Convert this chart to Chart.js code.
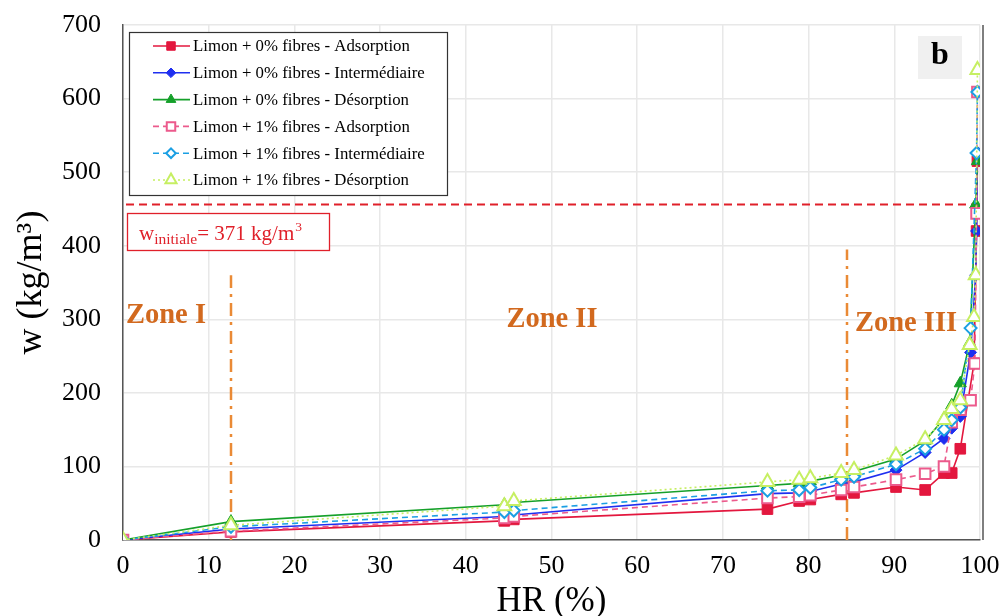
<!DOCTYPE html>
<html>
<head>
<meta charset="utf-8">
<script src="https://cdn.jsdelivr.net/npm/chart.js@4.4.0/dist/chart.umd.min.js"></script>
<style>
html,body{margin:0;padding:0;background:#fff}
#wrap{width:999px;height:616px}
</style>
</head>
<body>
<div id="wrap"><canvas id="myChart" width="999" height="616"></canvas></div>
<script>
// HR (%) and w (kg/m3)
var hrA0=[0,12.6,44.5,45.6,75.2,78.9,80.2,83.8,85.3,90.2,93.6,95.8,96.7,97.7,99.3,99.6,99.7]
var wA0 =[0,11,26,28,42,53,55,62,64,72,68,91,91,124,240,420,515]

var hrI0=[0,12.6,44.5,45.6,75.2,78.9,80.2,83.8,85.3,90.2,93.6,95.8,96.7,97.7,98.9,99.5,99.6,99.7]
var wI0 =[0,15,32,34,63,64,66,76,79,95,119,138,152,168,255,360,420,527]

var hrD0=[0,12.6,44.5,45.6,75.2,78.9,80.2,83.8,85.3,90.2,93.6,95.8,96.7,97.7,98.8,99.5,99.7]
var wD0 =[0,25,48,51,74,77,80,88,93,110,135,165,183,213,268,456,515]

var hrA1=[0,12.6,44.5,45.6,75.2,78.9,80.2,83.8,85.3,90.2,93.6,95.8,96.7,97.7,98.9,99.4,99.6,99.7]
var wA1 =[0,12,30,32,57,59,61,68,72,82,90,100,160,177,190,240,444,609]

var hrI1=[0,12.6,44.5,45.6,75.2,78.9,80.2,83.8,85.3,90.2,93.6,95.8,96.7,97.7,98.9,99.6,99.7]
var wI1 =[0,18,38,40,67,68,71,82,86,103,124,150,163,180,288,526,609]

var hrD1=[0,12.6,44.5,45.6,75.2,78.9,80.2,83.8,85.3,90.2,93.6,95.8,96.7,97.7,98.8,99.3,99.5,99.7]
var wD1 =[0,20,46,53,79,82,84,91,95,115,137,163,178,190,265,303,360,639]

var labels=['Limon + 0% fibres - Adsorption','Limon + 0% fibres - Intermédiaire','Limon + 0% fibres - Désorption',
            'Limon + 1% fibres - Adsorption','Limon + 1% fibres - Intermédiaire','Limon + 1% fibres - Désorption']

var wInit=456      // red dashed level
var zoneLines=[{x:12.6,top:360},{x:84.5,top:395}]
var xTicks=[0,10,20,30,40,50,60,70,80,90,100]
var yTicks=[0,100,200,300,400,500,600,700]

var SERIF='"Liberation Serif","Times New Roman",serif'

function pts(xs,ys){ return xs.map(function(x,i){return {x:x,y:ys[i]}}) }

function ds(i,xs,ys,color,style,radius,dash,hollow,width){
  return {
    label:labels[i], data:pts(xs,ys), borderColor:color, borderWidth:width||1.6,
    borderDash:dash, pointStyle:style, pointRadius:radius,
    pointBackgroundColor:hollow?'#ffffff':color, pointBorderColor:color,
    pointBorderWidth:hollow?2:1, showLine:true, fill:false, tension:0, order:10-i
  }
}

var datasets=[
  ds(0,hrA0,wA0,'#e3173e','rect',7.5,[],false),
  ds(1,hrI0,wI0,'#1f2ff0','rectRot',6,[],false),
  ds(2,hrD0,wD0,'#15a02a','triangle',7,[],false),
  ds(3,hrA1,wA1,'#ec5a8c','rect',7.5,[6,4],true),
  ds(4,hrI1,wI1,'#1b9fe3','rectRot',6,[6,4],true),
  ds(5,hrD1,wD1,'#c6ef62','triangle',8,[2,3],true)
]

var extras={
  id:'extras',
  beforeDatasetsDraw:function(chart){
    var c=chart.ctx, xs=chart.scales.x, ys=chart.scales.y
    c.save()
    // horizontal red dashed line
    c.strokeStyle='#e0202a'; c.lineWidth=1.8; c.setLineDash([8,5])
    c.beginPath(); c.moveTo(xs.getPixelForValue(0)+3,ys.getPixelForValue(wInit))
    c.lineTo(xs.getPixelForValue(99.4),ys.getPixelForValue(wInit)); c.stroke()
    // zone separators (dash-dot)
    c.strokeStyle='#ea8a35'; c.lineWidth=2.5; c.setLineDash([13,6,3,6])
    zoneLines.forEach(function(z){
      var px=Math.round(xs.getPixelForValue(z.x))
      c.beginPath(); c.moveTo(px,ys.getPixelForValue(0)); c.lineTo(px,ys.getPixelForValue(z.top)); c.stroke()
    })
    c.setLineDash([])
    // zone labels
    c.fillStyle='#d2691e'; c.font='bold 28.5px '+SERIF; c.textBaseline='middle'; c.textAlign='center'
    c.fillText('Zone I',166,316)
    c.fillText('Zone II',552,320)
    c.fillText('Zone III',906,324)
    c.restore()
  },
  afterDatasetsDraw:function(chart){
    var c=chart.ctx
    c.save()
    // w initiale box
    c.fillStyle='#ffffff'; c.fillRect(127,213,202,37)
    c.strokeStyle='#e0202a'; c.lineWidth=1.3; c.strokeRect(127.5,213.5,202,37)
    c.fillStyle='#e0202a'; c.textBaseline='alphabetic'; c.textAlign='left'
    var x=139, y=240
    c.font='21px '+SERIF; c.fillText('w',x,y); x+=c.measureText('w').width
    c.font='15.5px '+SERIF; c.fillText('initiale',x,y+4); x+=c.measureText('initiale').width
    c.font='21px '+SERIF; c.fillText('= 371 kg/m',x,y); x+=c.measureText('= 371 kg/m').width
    c.font='13.5px '+SERIF; c.fillText('3',x+1,y-9)
    // panel letter
    c.fillStyle='#f0f0f0'; c.fillRect(918,36,44,43)
    c.fillStyle='#000'; c.font='bold 32px '+SERIF; c.textAlign='center'; c.textBaseline='middle'
    c.fillText('b',940,56)
    // legend
    var lx=129, ly=32, lw=318, lh=163
    c.fillStyle='#ffffff'; c.fillRect(lx,ly,lw,lh)
    c.strokeStyle='#333'; c.lineWidth=1.2; c.strokeRect(lx+0.5,ly+0.5,lw,lh)
    c.textAlign='left'; c.textBaseline='middle'; c.font='16.8px '+SERIF
    chart.data.datasets.forEach(function(d,i){
      var yy=ly+14+i*26.8
      c.strokeStyle=d.borderColor; c.lineWidth=d.borderWidth; c.setLineDash(d.borderDash)
      c.beginPath(); c.moveTo(153,yy); c.lineTo(190,yy); c.stroke(); c.setLineDash([])
      c.fillStyle=d.pointBackgroundColor; c.strokeStyle=d.pointBorderColor; c.lineWidth=d.pointBorderWidth
      Chart.helpers.drawPoint(c,{pointStyle:d.pointStyle,radius:d.pointRadius*0.8,borderWidth:d.pointBorderWidth},171,yy)
      c.fillStyle='#000'; c.fillText(d.label,193,yy+1)
    })
    c.restore()
  }
}

var ctx=document.getElementById('myChart').getContext('2d')
new Chart(ctx,{
  type:'scatter',
  data:{datasets:datasets},
  options:{
    responsive:false, animation:false,
    layout:{padding:{top:25,right:19,left:0,bottom:0}},
    plugins:{legend:{display:false},tooltip:{enabled:false}},
    scales:{
      x:{
        type:'linear', min:0, max:100,
        afterBuildTicks:function(s){ s.ticks=xTicks.map(function(v){return {value:v}}) },
        afterFit:function(s){ s.height=76; s.paddingLeft=0; s.paddingRight=0 },
        grid:{color:'#e8e8e8',lineWidth:1.5,drawTicks:false},
        border:{color:'#555',width:1.5},
        ticks:{padding:11,color:'#000',font:{family:SERIF,size:26}},
        title:{display:true,text:'HR (%)',color:'#000',font:{family:SERIF,size:35},padding:{top:0,bottom:-7}}
      },
      y:{
        type:'linear', min:0, max:700,
        afterBuildTicks:function(s){ s.ticks=yTicks.map(function(v){return {value:v}}) },
        afterFit:function(s){ s.width=123; s.paddingTop=0; s.paddingBottom=0 },
        grid:{color:'#e8e8e8',lineWidth:1.5,drawTicks:false},
        border:{color:'#555',width:1.5},
        ticks:{padding:22,color:'#000',font:{family:SERIF,size:26}},
        title:{display:true,text:'w (kg/m³)',color:'#000',font:{family:SERIF,size:36},padding:{top:10,bottom:0}}
      }
    }
  },
  plugins:[extras,{
    id:'frame',
    afterDraw:function(chart){
      var a=chart.chartArea, c=chart.ctx
      c.save(); c.strokeStyle='#555'; c.lineWidth=1.5
      c.beginPath(); c.moveTo(a.right+3,a.top); c.lineTo(a.right+3,a.bottom); c.stroke()
      c.restore()
    }
  }]
})
</script>
</body>
</html>
